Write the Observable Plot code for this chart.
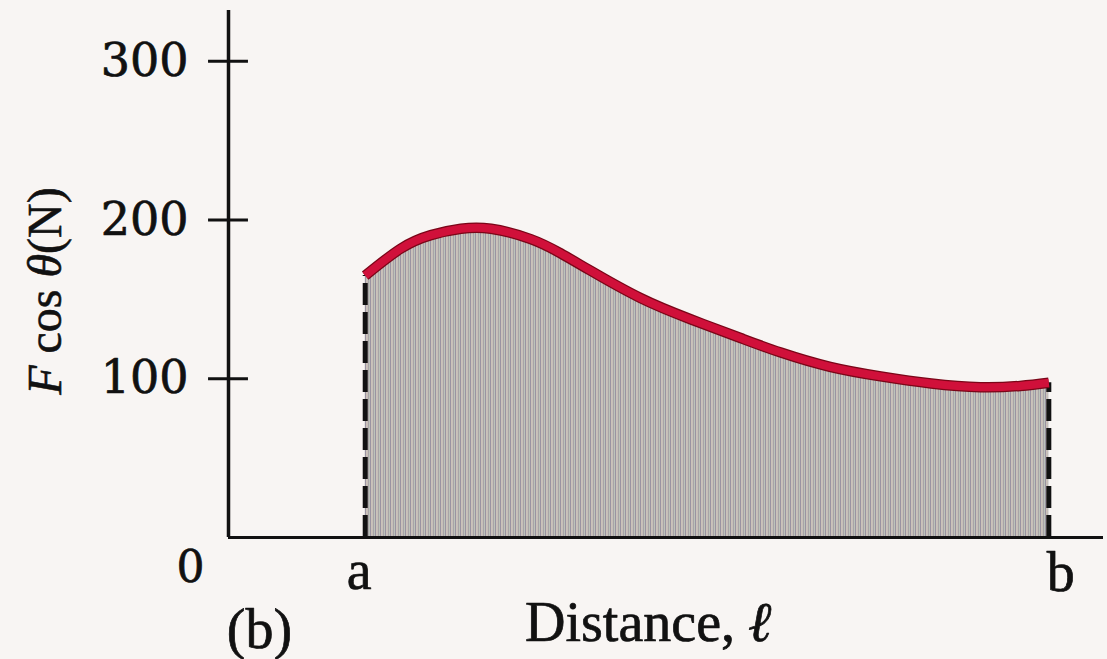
<!DOCTYPE html>
<html>
<head>
<meta charset="utf-8">
<script src="https://cdn.jsdelivr.net/npm/d3@7"></script>
<script src="https://cdn.jsdelivr.net/npm/@observablehq/plot@0.6"></script>
<style>
  html, body { margin: 0; padding: 0; background: #f8f5f3; }
  #chart svg { display: block; background: #f8f5f3; }
</style>
</head>
<body>
<div id="chart"></div>
<script>
// Distance positions (arbitrary units; "a" and "b" are the integration limits)
const xTickValues = [0, 10, 60];
const xTickLabels = ["0", "a", "b"];
const yTickValues = [100, 200, 300];
const yLabel = "F cos θ(N)";
const xLabel = "Distance, ℓ";
const panelLabel = "(b)";

// F cos θ curve
const curveX = [10, 12.6, 14.8, 17, 19.2, 22.1, 24.3, 26.5, 30.1, 33.8, 37.5, 40.4, 44, 47.7, 51.4, 55, 57.9, 60];
const curveY = [165, 182, 190.5, 194.5, 194.5, 188, 179, 168, 151, 137.5, 125.5, 116.5, 107.5, 101.5, 97, 94.7, 95.5, 97.5];

const curve = curveX.map((x, i) => ({x, y: curveY[i]}));
const ends = [curve[0], curve[curve.length - 1]];

const serif = "'Liberation Serif', 'Times New Roman', serif";
const digitFont = "'DejaVu Serif', serif";
const ink = "#111";

const tickLabel = (i, dx, dy, font, size) =>
  Plot.text([xTickValues[i]], {x: d => d, y: 0, text: () => xTickLabels[i], dx, dy,
    fontFamily: font, fontSize: size, lineAnchor: "bottom", textAnchor: "middle", fill: ink,
    stroke: ink, strokeWidth: 0.7});

const plot = Plot.plot({
  width: 1107,
  height: 659,
  marginLeft: 228,
  marginRight: 4,
  marginTop: 10,
  marginBottom: 122,
  style: {background: "#f8f5f3", overflow: "visible"},
  x: {domain: [0, 64], axis: null},
  y: {domain: [0, 332], axis: null},
  marks: [
    // shaded area (work)
    Plot.areaY(curve, {x: "x", y: "y", curve: "natural", fill: "url(#stripes)"}),
    // dashed limits
    Plot.ruleX(ends, {x: "x", y1: 0, y2: "y", stroke: ink, strokeWidth: 5, strokeDasharray: "22,7"}),
    // curve
    Plot.line(curve, {x: "x", y: "y", curve: "natural", stroke: "#7a0618", strokeWidth: 10.5, strokeLinecap: "butt"}),
    Plot.line(curve, {x: "x", y: "y", curve: "natural", stroke: "#d0103a", strokeWidth: 8, strokeLinecap: "butt"}),
    // axes
    Plot.ruleY([0], {x1: 0, x2: 64, stroke: ink, strokeWidth: 3}),
    Plot.ruleX([0], {y1: 0, y2: 332, stroke: ink, strokeWidth: 3.5}),
    Plot.ruleY(yTickValues, {x1: -1.46, x2: 1.46, stroke: ink, strokeWidth: 3}),
    Plot.text(yTickValues, {x: 0, y: d => d, text: d => String(d), textAnchor: "end", dx: -40,
      fontFamily: digitFont, fontSize: 46, fill: ink, stroke: ink, strokeWidth: 0.7, lineAnchor: "middle"}),
    // x tick labels
    tickLabel(0, -38, 44, digitFont, 44),
    tickLabel(1, -6, 51, serif, 56),
    tickLabel(2, 12, 53, serif, 56),
    // axis titles
    Plot.text([yLabel], {frameAnchor: "left", textAnchor: "middle", dx: -183, dy: 17, rotate: -90,
      fontFamily: serif, fontSize: 48, fill: ink, stroke: ink, strokeWidth: 0.6, className: "ylab"}),
    Plot.text([xLabel], {frameAnchor: "bottom", textAnchor: "middle", dx: -17, dy: 103, lineAnchor: "bottom",
      fontFamily: serif, fontSize: 56, fill: ink, stroke: ink, strokeWidth: 0.7, className: "xlab"}),
    Plot.text([panelLabel], {frameAnchor: "bottom-left", textAnchor: "middle", dx: 31, dy: 110, lineAnchor: "bottom",
      fontFamily: serif, fontSize: 56, fill: ink, stroke: ink, strokeWidth: 0.7})
  ]
});

// stripe pattern for the shaded region
const ns = "http://www.w3.org/2000/svg";
const defs = document.createElementNS(ns, "defs");
defs.innerHTML = `<pattern id="stripes" patternUnits="userSpaceOnUse" width="5" height="4">
  <rect x="0" y="0" width="1.5" height="4" fill="#9a93a2"/>
  <rect x="1.5" y="0" width="1" height="4" fill="#cdbfa6"/>
  <rect x="2.5" y="0" width="1.5" height="4" fill="#a9a4a6"/>
  <rect x="4" y="0" width="1" height="4" fill="#bcc3bb"/>
</pattern>`;
plot.insertBefore(defs, plot.firstChild);

// italic math symbols in the titles
const yt = plot.querySelector("g.ylab text");
if (yt) yt.innerHTML = `<tspan font-style="italic">F</tspan> cos <tspan font-style="italic">θ</tspan>(N)`;
const xt = plot.querySelector("g.xlab text");
if (xt) xt.innerHTML = `Distance, <tspan font-style="italic" font-weight="bold">ℓ</tspan>`;

document.getElementById("chart").appendChild(plot);
</script>
</body>
</html>
